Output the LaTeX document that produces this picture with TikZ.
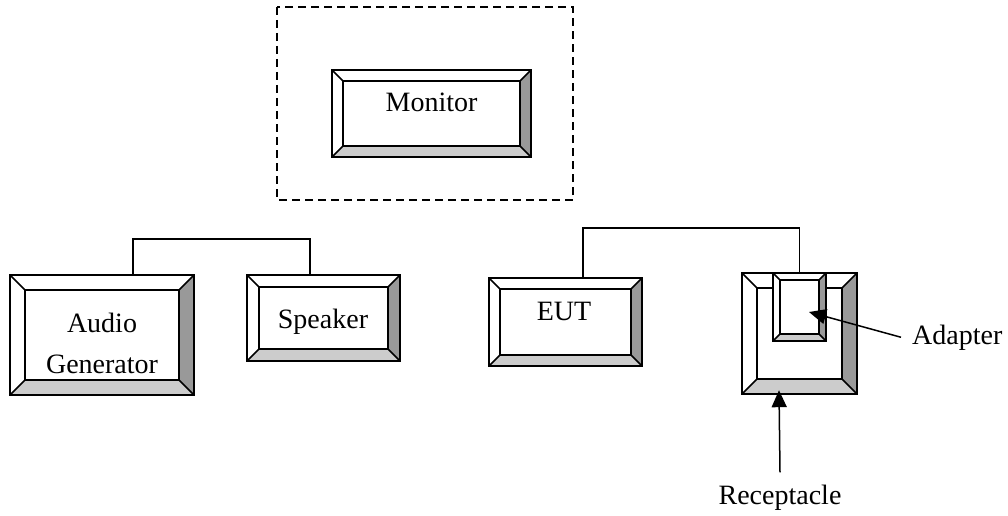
\documentclass[tikz,border=0pt]{standalone}
\usepackage{fontspec}
\setmainfont{Liberation Serif}
\usetikzlibrary{arrows.meta,fit}
\definecolor{bevdark}{HTML}{999999}
\definecolor{bevlight}{HTML}{CCCCCC}
\tikzset{
  bevline/.style={line width=1.6pt, line join=miter},
  wire/.style={line width=1.5pt},
  lbl/.style={inner sep=0pt, font=\fontsize{28}{41}\selectfont},
  pointer/.style={wire, -{Triangle[length=17pt,width=15pt]}},
}
% #1 name, (#2,#3) top left, (#4,#5) bottom right, #6 bevel
\newcommand{\bevbox}[6]{%
  \fill[white] (#2,#3) rectangle (#4,#5);
  \fill[bevdark] (#4,#3)--(#4,#5)--(#4-#6,#5-#6)--(#4-#6,#3+#6)--cycle;
  \fill[bevlight] (#2,#5)--(#4,#5)--(#4-#6,#5-#6)--(#2+#6,#5-#6)--cycle;
  \draw[bevline] (#2,#3) rectangle (#4,#5) (#2+#6,#3+#6) rectangle (#4-#6,#5-#6);
  \draw[bevline] (#2,#3)--(#2+#6,#3+#6) (#4,#3)--(#4-#6,#3+#6)
     (#2,#5)--(#2+#6,#5-#6) (#4,#5)--(#4-#6,#5-#6);
  \node[fit={(#2,#3) (#4,#5)}, inner sep=0pt] (#1) {};
}
\begin{document}
\begin{tikzpicture}[x=1pt, y=-1pt]
\useasboundingbox (0,0) rectangle (1008,516);
% monitor area
\draw[line width=1.5pt, dash pattern=on 8pt off 5pt] (277,7) rectangle (573,200);
\bevbox{mon}{332}{70}{531}{157}{11}
\node[lbl, anchor=base] (montxt) at (431.5,111) {Monitor};

% audio side
\bevbox{ag}{10}{275}{194}{395}{15}
\node[lbl, align=center] (agtxt) at (102,343) {Audio\\Generator};
\bevbox{sp}{247}{275}{400}{361}{12}
\node[lbl, anchor=base] (sptxt) at (323,328) {Speaker};
\draw[wire] ([xshift=31pt]ag.north) -- ++(0,-36) -| ([xshift=-13.5pt]sp.north);

% EUT side
\bevbox{eut}{489}{278}{642}{366}{11}
\node[lbl, anchor=base] (euttxt) at (564,320) {EUT};
\bevbox{rcp}{742}{273}{857}{394}{15}
\bevbox{adp}{773}{273}{826}{341}{7}
\draw[wire] ([xshift=17.5pt]eut.north) -- ++(0,-50) -| (adp.north);

\node[lbl, anchor=base west] (adplbl) at (912,344) {Adapter};
\node[lbl, anchor=base] (rcplbl) at (780,504) {Receptacle};
\draw[pointer] ([xshift=-11pt]adplbl.west) -- ([xshift=9.5pt,yshift=-5pt]adp.center);
\draw[pointer] ([yshift=12pt]rcplbl.north) -- ([xshift=-20.5pt,yshift=4pt]rcp.south);
\end{tikzpicture}
\end{document}
